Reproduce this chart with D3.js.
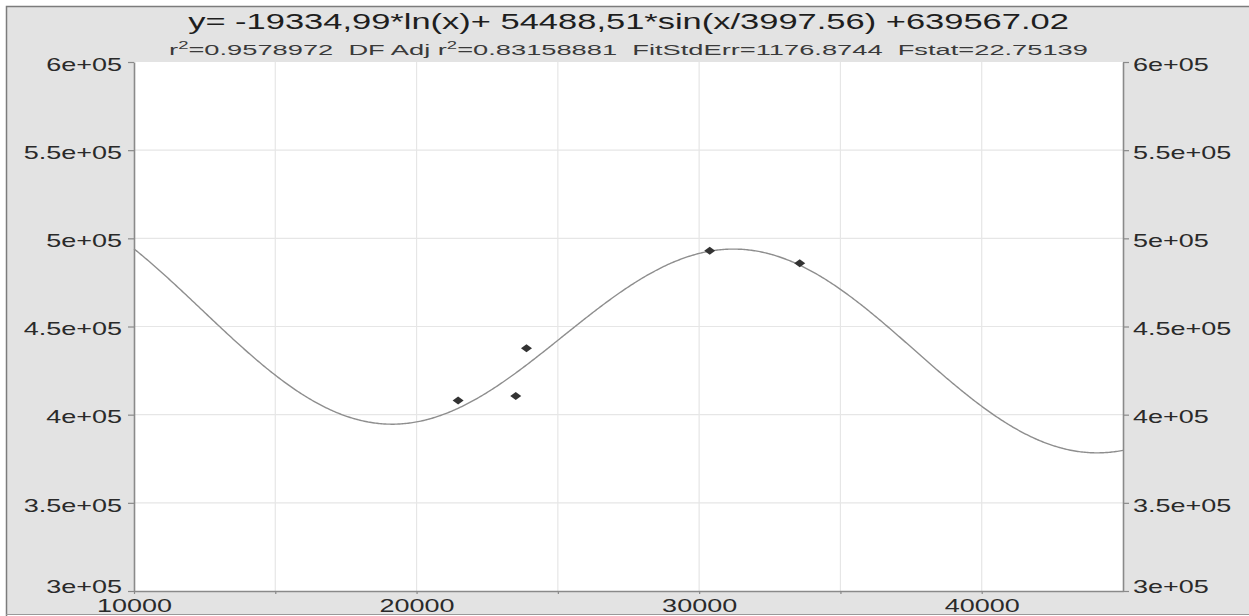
<!DOCTYPE html>
<html>
<head>
<meta charset="utf-8">
<script src="https://cdn.jsdelivr.net/npm/d3@7"></script>
<style>
  html, body { margin: 0; padding: 0; background: #ffffff; }
  svg { display: block; font-family: "Liberation Sans", Arial, sans-serif; }
  text { white-space: pre; }
</style>
</head>
<body>
<svg id="chart" width="1249" height="616"></svg>
<script>
// Observed points
const obsX = [21470, 23510, 23890, 30375, 33560];
const obsY = [408000, 410600, 437600, 493000, 485800];

// Fitted model: y = a*ln(x) + b*sin(x/c) + d
const fitCoef = { a: -19334.99, b: 54488.51, c: 3997.56, d: 639567.02 };

// Axis ticks
const xTicks = [10000, 20000, 30000, 40000];
const xGrid = [15000, 20000, 25000, 30000, 35000, 40000];
const yTicks = [300000, 350000, 400000, 450000, 500000, 550000, 600000];
const yTickLabels = ["3e+05", "3.5e+05", "4e+05", "4.5e+05", "5e+05", "5.5e+05", "6e+05"];

const titleText = "y= -19334,99*ln(x)+ 54488,51*sin(x/3997.56) +639567.02";
const statParts = [
  ["r", "2", "=0.9578972  DF Adj "],
  ["r", "2", "=0.83158881  FitStdErr=1176.8744  Fstat=22.75139"]
];

const W = 1249, H = 616;
const plot = { left: 134, right: 1123, top: 62, bottom: 591 };
const SX = 1.5; // horizontal text stretch

const svg = d3.select("#chart");

// Outer panel
svg.append("rect").attr("x", 6).attr("y", 6).attr("width", W).attr("height", 608)
  .attr("fill", "#e3e3e3");
svg.append("path").attr("d", `M6.5,${H} V6.5 H${W}`).attr("fill", "none")
  .attr("stroke", "#7c7c7c").attr("stroke-width", 1.5);
svg.append("line").attr("x1", 6).attr("x2", W).attr("y1", 614.5).attr("y2", 614.5)
  .attr("stroke", "#9a9a9a").attr("stroke-width", 1);

const x = d3.scaleLinear().domain([10000, 45000]).range([plot.left, plot.right]);
const y = d3.scaleLinear().domain([300000, 600000]).range([plot.bottom, plot.top]);

// Plot area
svg.append("rect").attr("x", plot.left).attr("y", plot.top)
  .attr("width", plot.right - plot.left).attr("height", plot.bottom - plot.top)
  .attr("fill", "#ffffff");

// Grid
const grid = svg.append("g").attr("stroke", "#e6e6e6").attr("stroke-width", 1.2);
grid.selectAll("line.v").data(xGrid).join("line").attr("class", "v")
  .attr("x1", d => x(d)).attr("x2", d => x(d))
  .attr("y1", plot.top).attr("y2", plot.bottom);
grid.selectAll("line.h").data(yTicks.slice(1, -1)).join("line").attr("class", "h")
  .attr("x1", plot.left).attr("x2", plot.right)
  .attr("y1", d => y(d)).attr("y2", d => y(d));

// Axes
const axisColor = "#8a8a8a";
const fmtY = d => yTickLabels[yTicks.indexOf(d)];
// lowest label is lifted clear of the x-axis labels
const yLabelShift = d => (d === yTicks[0] ? -5 : 2);

function styleAxis(g) {
  g.select(".domain").attr("stroke", axisColor).attr("stroke-width", 1.6);
  g.selectAll(".tick line").attr("stroke", axisColor).attr("stroke-width", 1.2);
  g.selectAll(".tick text").attr("fill", "#2a2a2a").attr("font-size", 18);
}

const gL = svg.append("g").attr("transform", `translate(${plot.left},0)`)
  .call(d3.axisLeft(y).tickValues(yTicks).tickFormat(fmtY).tickSize(6).tickSizeOuter(0).tickPadding(0));
styleAxis(gL);
gL.selectAll(".tick text").attr("x", 0).attr("dy", "0.35em")
  .attr("transform", d => `translate(-12,${yLabelShift(d)}) scale(${SX},1)`);

const gR = svg.append("g").attr("transform", `translate(${plot.right},0)`)
  .call(d3.axisRight(y).tickValues(yTicks).tickFormat(fmtY).tickSize(6).tickSizeOuter(0).tickPadding(0));
styleAxis(gR);
gR.selectAll(".tick text").attr("x", 0).attr("dy", "0.35em")
  .attr("transform", d => `translate(10,${yLabelShift(d)}) scale(${SX},1)`);

const gB = svg.append("g").attr("transform", `translate(0,${plot.bottom})`)
  .call(d3.axisBottom(x).tickValues(xGrid.concat([10000])).tickFormat(d => xTicks.includes(d) ? d3.format("d")(d) : "")
    .tickSize(3).tickSizeOuter(0).tickPadding(0));
styleAxis(gB);
gB.selectAll(".tick text").attr("y", 0).attr("dy", 0)
  .attr("transform", `translate(0,21) scale(${SX},1)`);

// Fitted curve
const f = v => fitCoef.a * Math.log(v) + fitCoef.b * Math.sin(v / fitCoef.c) + fitCoef.d;
const xs = d3.range(0, 701).map(i => 10000 + i * 50);
const line = d3.line().x(d => x(d)).y(d => y(f(d))).curve(d3.curveLinear);
svg.append("path").datum(xs).attr("d", line)
  .attr("fill", "none").attr("stroke", "#8e8e8e").attr("stroke-width", 1.4);

// Observations
const pts = obsX.map((v, i) => [v, obsY[i]]);
svg.append("g").selectAll("path").data(pts).join("path")
  .attr("d", d => {
    const cx = x(d[0]), cy = y(d[1]);
    return `M${cx - 5.5},${cy} L${cx},${cy - 4} L${cx + 5.5},${cy} L${cx},${cy + 4} Z`;
  })
  .attr("fill", "#333333");

// Title and fit statistics
const cxTitle = (plot.left + plot.right) / 2;
svg.append("text").attr("transform", `translate(${cxTitle},29) scale(${SX},1)`)
  .attr("text-anchor", "middle").attr("font-size", 23).attr("fill", "#1e1e1e")
  .text(titleText);

const sub = svg.append("text").attr("transform", `translate(${cxTitle},55) scale(1.76,1)`)
  .attr("text-anchor", "middle").attr("font-size", 15.5).attr("fill", "#3a3a3a");
statParts.forEach(p => {
  sub.append("tspan").text(p[0]);
  sub.append("tspan").attr("font-size", 10.5).attr("dy", -6).text(p[1]);
  sub.append("tspan").attr("dy", 6).text(p[2]);
});
</script>
</body>
</html>
